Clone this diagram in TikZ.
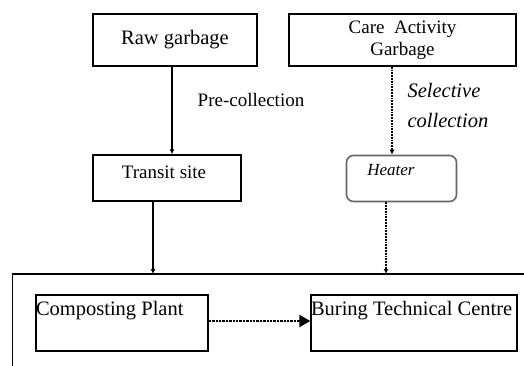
\documentclass[tikz,border=0pt]{standalone}
\usepackage{fontspec}
\setmainfont{Liberation Serif}
\usetikzlibrary{arrows.meta, positioning}

\begin{document}
\begin{tikzpicture}[x=1pt, y=-1pt,
    box/.style={draw, line width=1.4pt, inner sep=0pt},
    txt/.style={font=\fontsize{20.5}{24}\selectfont},
    flow/.style={line width=2pt, -{Latex[length=5pt,width=5pt]}},
    dotflow/.style={line width=1.8pt, densely dotted, -{Latex[length=5pt,width=5pt]}}]
\useasboundingbox (0,0) rectangle (524,365);
% Draw the two sources of garbage
\node[box, minimum width=164pt, minimum height=52pt, txt] (raw) at (175,40) {Raw garbage};
\node[box, minimum width=227pt, minimum height=52pt, txt, font=\fontsize{19}{22}\selectfont, align=center] (care) at (402.5,40) {Care~~Activity\\Garbage};
\node[txt, font=\fontsize{19}{22}\selectfont] (precol) at (251,100) {Pre-collection};
\node[txt, font=\itshape\fontsize{20.5}{30}\selectfont, align=left, anchor=west] (selcol) at (404,105) {Selective\\collection};

% Intermediate steps
\node[box, minimum width=148pt, minimum height=46pt] (transit) at (167,178) {};
\node[txt, font=\fontsize{19}{22}\selectfont] at (164,172) {Transit site};
\node[box, draw=black!60, rounded corners=7pt, line width=1.6pt,
      minimum width=110pt, minimum height=46pt] (heater) at (401.5,178.5) {};
\node[txt, font=\itshape\fontsize{17}{20}\selectfont] at (391,170) {Heater};

% Treatment area (runs off the page to the right and bottom)
\draw[line width=1.4pt] (545,274) -- (12.5,274) -- (12.5,385);
\coordinate (plant) at (270,274);
\node[box, minimum width=172pt, minimum height=56pt] (compost) at (122,323) {};
\node[txt, anchor=west, inner sep=0.5pt] at (compost.west |- 0,311) {Composting Plant};
\node[box, minimum width=206pt, minimum height=56pt] (burn) at (414,323) {};
\node[txt, anchor=west, inner sep=0.5pt] at (burn.west |- 0,311) {Buring Technical Centre};

% Connectors
\draw[flow] ([xshift=-3pt]raw.south) -- ([xshift=-3pt]raw.south |- transit.north);
\draw[flow] ([xshift=-14pt]transit.south) -- ([xshift=-14pt]transit.south |- plant);
\draw[dotflow] ([xshift=-10.5pt]care.south) -- ([xshift=-10.5pt]care.south |- heater.north);
\draw[dotflow] ([xshift=-15.5pt]heater.south) -- ([xshift=-15.5pt]heater.south |- plant);
\draw[line width=2.4pt, densely dotted, -{Triangle[length=11pt,width=12pt]}] ([yshift=2pt]compost.east) -- ([yshift=2pt]burn.west);

\end{tikzpicture}
\end{document}
